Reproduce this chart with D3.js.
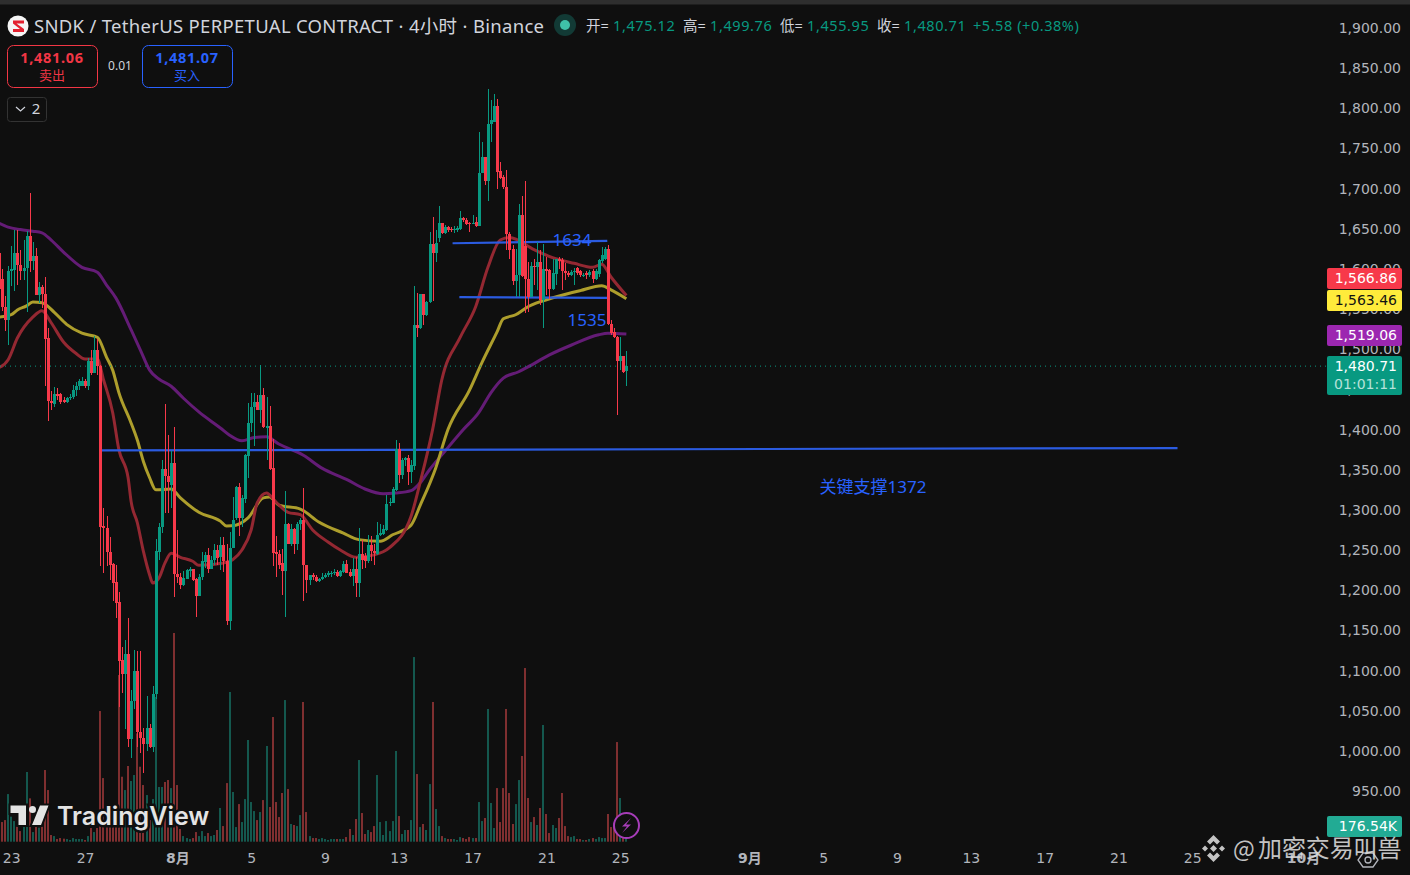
<!DOCTYPE html>
<html lang="zh">

<head>
    <meta charset="UTF-8">
    <title>SNDK 4小时</title>
    <script src="https://d3js.org/d3.v7.min.js"></script>
    <style>
        html, body {
            margin: 0;
            padding: 0;
            background-color: #0f0f0f;
            overflow: hidden;
        }

        text {
            font-family: "Noto Sans", "Noto Sans CJK SC", sans-serif;
        }
    </style>
</head>

<body>
    <div id="chart"></div>

    <script>
        // k线数据，第一根在屏幕左边缘外
        const firstBar = -1
        const opens = [1620,1588,1553,1537,1597,1599,1620,1605,1598,1601,1641,1610,1616,1567,1577,1569,1514,1436,1432,1444,
            1444,1437,1434,1439,1441,1449,1454,1454,1461,1454,1485,1471,1499,1479,1280,1278,1248,1233,1210,1185,
            1113,1096,1121,1015,1062,1099,1023,1016,1009,1028,1005,1071,1248,1279,1351,1342,1331,1358,1220,1216,
            1207,1214,1224,1226,1214,1193,1217,1235,1244,1227,1238,1250,1241,1256,1236,1162,1253,1290,1328,1290,
            1314,1367,1408,1428,1434,1424,1443,1402,1404,1352,1247,1245,1234,1224,1283,1257,1276,1258,1283,1287,
            1231,1213,1219,1216,1211,1214,1217,1219,1221,1221,1223,1218,1223,1233,1223,1218,1227,1209,1245,1242,
            1236,1256,1249,1245,1269,1270,1275,1308,1309,1325,1376,1344,1362,1364,1347,1355,1530,1526,1569,1543,
            1559,1631,1620,1638,1657,1645,1652,1650,1648,1648,1650,1663,1661,1657,1656,1658,1653,1720,1739,1710,
            1781,1783,1803,1722,1715,1702,1644,1625,1585,1592,1667,1628,1588,1565,1604,1603,1609,1561,1600,1599,
            1575,1594,1613,1611,1597,1595,1592,1596,1601,1597,1592,1595,1592,1598,1588,1594,1610,1613,1625,1531,
            1522,1515,1486,1492,1473]
        const highs = [1630,1600,1566,1604,1628,1649,1648,1624,1636,1647,1694,1633,1626,1584,1580,1590,1526,1448,1453,1452,
            1445,1440,1440,1444,1455,1459,1463,1466,1463,1489,1499,1517,1513,1481,1302,1292,1266,1234,1231,1198,
            1129,1138,1165,1076,1126,1124,1124,1028,1068,1033,1081,1264,1284,1362,1432,1393,1373,1403,1275,1221,
            1224,1227,1229,1227,1215,1220,1248,1248,1253,1243,1258,1256,1266,1266,1258,1273,1316,1330,1334,1319,
            1370,1433,1445,1445,1443,1480,1452,1441,1429,1388,1267,1250,1251,1323,1284,1283,1277,1285,1290,1327,
            1232,1219,1222,1219,1215,1222,1221,1224,1224,1227,1225,1225,1236,1238,1227,1240,1241,1277,1263,1246,
            1269,1267,1258,1285,1283,1281,1319,1315,1329,1387,1383,1364,1366,1368,1362,1579,1570,1569,1569,1560,
            1646,1665,1648,1678,1657,1655,1653,1652,1654,1654,1672,1665,1663,1658,1667,1665,1771,1758,1739,1824,
            1810,1818,1812,1733,1717,1723,1646,1630,1625,1681,1691,1709,1609,1609,1613,1634,1624,1631,1615,1600,
            1613,1613,1615,1614,1607,1597,1599,1601,1603,1599,1595,1597,1599,1600,1600,1612,1627,1627,1630,1537,
            1527,1517,1515,1492,1498]
        const lows = [1560,1548,1523,1505,1579,1572,1580,1586,1586,1547,1596,1599,1568,1557,1551,1454,1411,1425,1428,1437,
            1432,1433,1433,1437,1438,1442,1449,1454,1452,1449,1468,1471,1468,1230,1222,1230,1213,1187,1166,1055,
            1072,1027,1005,991,1052,1005,997,972,1000,1004,999,1064,1237,1271,1296,1296,1302,1191,1209,1202,
            1205,1214,1217,1212,1167,1193,1213,1228,1222,1226,1232,1231,1225,1223,1157,1150,1252,1287,1267,1279,
            1308,1340,1397,1379,1424,1408,1402,1362,1350,1230,1217,1227,1194,1167,1257,1255,1245,1250,1275,1186,
            1196,1206,1213,1210,1210,1213,1215,1216,1217,1219,1216,1217,1222,1221,1216,1205,1191,1192,1227,1228,
            1234,1236,1231,1244,1267,1269,1274,1305,1308,1323,1333,1338,1355,1331,1333,1350,1515,1525,1530,1542,
            1558,1560,1609,1634,1644,1644,1646,1646,1645,1646,1649,1658,1655,1646,1656,1652,1653,1719,1704,1685,
            1758,1783,1700,1712,1700,1624,1612,1580,1565,1565,1590,1545,1546,1565,1580,1574,1555,1527,1568,1563,
            1574,1580,1600,1574,1586,1590,1591,1580,1592,1590,1590,1588,1590,1582,1586,1590,1607,1611,1530,1518,
            1514,1418,1474,1471,1454]
        const closes = [1575,1552,1537,1598,1600,1620,1605,1598,1601,1641,1610,1616,1568,1577,1569,1513,1435,1433,1444,1442,
            1434,1434,1439,1441,1449,1454,1460,1461,1454,1485,1471,1499,1479,1279,1278,1247,1231,1209,1184,1112,
            1096,1121,1015,1062,1099,1023,1016,1009,1028,1005,1071,1249,1279,1351,1342,1335,1358,1220,1216,1207,
            1215,1225,1226,1213,1193,1217,1236,1244,1227,1238,1250,1240,1256,1236,1162,1253,1288,1328,1290,1315,
            1368,1408,1428,1434,1424,1443,1403,1404,1351,1246,1245,1232,1224,1283,1258,1276,1258,1283,1287,1231,
            1213,1219,1216,1211,1214,1217,1219,1221,1222,1223,1218,1224,1233,1222,1218,1227,1209,1245,1237,1236,
            1256,1249,1246,1269,1271,1276,1307,1310,1326,1376,1344,1362,1364,1347,1356,1530,1526,1569,1543,1559,
            1631,1620,1632,1657,1645,1652,1649,1648,1650,1651,1663,1661,1656,1656,1657,1653,1720,1739,1710,1781,
            1785,1803,1721,1713,1702,1644,1624,1585,1592,1667,1591,1588,1565,1604,1602,1609,1561,1600,1598,1575,
            1595,1613,1610,1597,1595,1592,1596,1598,1595,1592,1593,1592,1596,1588,1598,1611,1617,1625,1531,1520,
            1515,1486,1492,1472,1479]
        // 成交量(K)
        const volumes = [150,220,242,533,280,231,168,119,168,780,485,108,168,157,168,802,578,75,63,30,
            41,34,30,19,41,30,30,30,19,63,153,108,153,1462,712,168,168,168,168,1865,
            727,578,847,679,746,1212,839,634,522,242,477,1619,612,612,668,690,600,2335,634,142,
            63,41,30,41,108,63,119,63,97,63,75,131,377,175,656,1675,556,164,421,220,
            477,1138,444,343,242,332,466,1071,388,1395,444,276,545,1585,589,198,187,175,298,1563,
            332,63,41,41,30,41,30,19,30,30,30,30,30,52,142,75,254,914,321,86,
            131,108,175,746,220,75,231,119,231,1015,287,86,131,131,242,2066,757,164,198,131,
            645,1563,366,175,63,41,30,30,30,19,52,41,30,52,41,41,444,231,265,1485,
            433,153,600,220,600,1485,545,198,421,690,959,1943,489,220,276,187,377,1306,310,97,
            187,153,265,545,175,63,52,63,30,30,19,19,30,41,30,52,41,41,310,164,
            205,1115,489,320,176.54]

        // 三条均线：横坐标为k线序号
        const redLineBars = [-1,2,5,10,13,16,20,24,27,31,33,36,38,41,42,44,46,48,49,51,53,55,58,62,64,72,75,78,81,83,86,89,93,97,101,106,110,115,121,126,133,136,140,143,149,154,158,162,165,173,179,186,192,195,198,203]
        const redLineVals = [1477,1487,1514,1540,1548,1533,1509,1495,1488,1488,1462,1421,1375,1340,1310,1284,1248,1219,1209,1215,1234,1246,1241,1236,1231,1234,1238,1250,1275,1309,1321,1310,1297,1294,1275,1260,1250,1241,1244,1253,1292,1335,1400,1462,1515,1553,1602,1636,1639,1624,1614,1607,1602,1606,1590,1567]
        const yellowLineBars = [-1,3,5,8,10,13,17,21,26,31,34,36,38,42,44,46,48,50,55,58,64,71,73,76,80,85,87,90,97,103,111,116,123,127,133,136,141,145,152,156,161,163,167,171,180,188,195,198,203]
        const yellowLineVals = [1540,1543,1549,1554,1559,1558,1546,1531,1520,1515,1490,1474,1446,1408,1387,1360,1340,1325,1326,1315,1297,1286,1280,1281,1290,1315,1316,1306,1301,1285,1271,1263,1261,1269,1281,1306,1352,1400,1449,1483,1522,1538,1543,1553,1565,1573,1579,1574,1563]
        const purpleLineBars = [-1,2,6,10,13,16,20,26,31,34,37,42,45,48,51,55,59,64,71,74,78,82,86,90,98,104,112,118,124,128,133,136,139,144,150,155,159,163,168,171,178,185,194,197,203]
        const purpleLineVals = [1657,1652,1649,1647,1645,1636,1621,1602,1596,1580,1564,1524,1499,1474,1463,1454,1439,1422,1402,1393,1386,1390,1391,1382,1368,1352,1338,1326,1320,1321,1324,1334,1350,1373,1400,1421,1446,1464,1472,1478,1493,1505,1518,1520,1519]

        // 手绘的水平线 [起始序号, 起始价, 结束序号, 结束价]
        const drawnLines = [[32.5,1374,382.2,1377],[146.5,1632,196.8,1635],[148.7,1565,196.8,1564]]
        const drawnLabels = ["1634","1535","关键支撑1372"]

        const priceTicks = d3.range(950,1901,50)
        const timeBars = [3,27,57,81,105,129,153,177,201,243,267,291,315,339,363,387,423]
        const timeLabels = ["23","27","8月","5","9","13","17","21","25","9月","5","9","13","17","21","25","10月"]

        const ohlcNames = ["开=","高=","低=","收="]
        const ohlcVals = ["1,475.12","1,499.76","1,455.95","1,480.71"]

        const upColor = "#089981", downColor = "#f7394a"
        const axisFont = "'DejaVu Sans','Noto Sans CJK SC'"

        let svg = d3.select("#chart").append("svg")
            .attr("width", 1410).attr("height", 875).style("display", "block")

        let xx = d3.scaleLinear().domain([0, 423]).range([2, 1303])
        let yy = d3.scaleLinear().domain([950, 1900]).range([791, 28])
        let vv = d3.scaleLinear().domain([0, 2335]).range([841.7, 633])

        svg.append("rect").attr("width", 1410).attr("height", 875).attr("fill", "#0f0f0f")
        svg.append("rect").attr("width", 1410).attr("height", 4.5).attr("fill", "#2e2e2e")

        let bars = closes.map((c, i) => ({ bar: i + firstBar, o: opens[i], h: highs[i], l: lows[i], c: c, v: volumes[i] }))
        let isUp = d => d.c >= d.o

        // 成交量
        svg.append("g").selectAll("rect").data(bars).enter().append("rect")
            .attr("x", d => Math.round(xx(d.bar)) - 1)
            .attr("width", 2)
            .attr("y", d => vv(d.v))
            .attr("height", d => 841.7 - vv(d.v))
            .attr("fill", d => isUp(d) ? "#14584e" : "#7f2f30")

        // 均线
        function drawMa(barsArr, vals, color) {
            let line = d3.line().x((d, i) => xx(barsArr[i])).y(d => yy(d)).curve(d3.curveMonotoneX)
            svg.append("path").attr("d", line(vals)).attr("fill", "none")
                .attr("stroke", color).attr("stroke-width", 3).attr("stroke-linejoin", "round")
        }
        drawMa(purpleLineBars, purpleLineVals, "#641c76")
        drawMa(yellowLineBars, yellowLineVals, "#ad9e2c")
        drawMa(redLineBars, redLineVals, "#942832")

        // 手绘线
        svg.append("g").selectAll("line").data(drawnLines).enter().append("line")
            .attr("x1", d => xx(d[0])).attr("y1", d => yy(d[1]))
            .attr("x2", d => xx(d[2])).attr("y2", d => yy(d[3]))
            .attr("stroke", "#2b5be0").attr("stroke-width", 2.2)

        // 当前价虚线
        let last = bars[bars.length - 1]
        svg.append("line").attr("x1", 0).attr("x2", 1327)
            .attr("y1", yy(last.c)).attr("y2", yy(last.c))
            .attr("stroke", upColor).attr("stroke-width", 1).attr("stroke-dasharray", "1 4")

        // 蜡烛
        let candle = svg.append("g").attr("shape-rendering", "crispEdges").selectAll("g").data(bars).enter().append("g")
        candle.append("rect")
            .attr("x", d => Math.round(xx(d.bar)))
            .attr("width", 1)
            .attr("y", d => yy(d.h))
            .attr("height", d => yy(d.l) - yy(d.h))
            .attr("fill", d => isUp(d) ? upColor : downColor)
        candle.append("rect")
            .attr("x", d => Math.round(xx(d.bar)) - 1)
            .attr("width", 3)
            .attr("y", d => yy(Math.max(d.o, d.c)))
            .attr("height", d => Math.max(1, Math.abs(yy(d.o) - yy(d.c))))
            .attr("fill", d => isUp(d) ? upColor : downColor)

        // 绘图文字
        let labelPos = [[572, 246], [587, 326], [873, 493]]
        svg.selectAll(".drawn").data(drawnLabels).enter().append("text")
            .attr("x", (d, i) => labelPos[i][0]).attr("y", (d, i) => labelPos[i][1])
            .attr("text-anchor", "middle").attr("font-size", 17).attr("fill", "#2962ff").text(d => d)

        // 价格轴
        let priceAxis = d3.axisRight(yy).tickValues(priceTicks).tickFormat(d3.format(",.2f")).tickSize(0).tickPadding(0)
        let pg = svg.append("g").attr("transform", "translate(1401,0)").call(priceAxis)
        pg.select(".domain").remove()
        pg.selectAll("text").attr("text-anchor", "end").attr("fill", "#b2b5bc")
            .style("font-family", axisFont).style("font-size", "14px")

        // 时间轴
        let timeAxis = d3.axisBottom(xx).tickValues(timeBars).tickFormat((d, i) => timeLabels[i]).tickSize(0).tickPadding(0)
        let tg = svg.append("g").attr("transform", "translate(0,853)").call(timeAxis)
        tg.select(".domain").remove()
        tg.selectAll("text").attr("fill", "#b2b5bc")
            .style("font-family", axisFont).style("font-size", "14px")
            .style("font-weight", (d, i) => timeLabels[i].includes("月") ? 700 : 400)

        // 右侧标签
        function tag(y0, h, color, txt, txtColor) {
            svg.append("rect").attr("x", 1327).attr("y", y0).attr("width", 75).attr("height", h).attr("rx", 2).attr("fill", color)
            svg.append("text").attr("x", 1397).attr("y", y0 + 15).attr("text-anchor", "end")
                .attr("font-size", 14).attr("fill", txtColor).style("font-family", axisFont).text(txt)
        }
        tag(268, 21, "#f7394a", "1,566.86", "#fff")
        tag(290, 21, "#ffeb3b", "1,563.46", "#131313")
        tag(325, 21, "#9c27b0", "1,519.06", "#fff")
        tag(356, 39, "#089981", "1,480.71", "#fff")
        svg.append("text").attr("x", 1397).attr("y", 389).attr("text-anchor", "end")
            .attr("font-size", 14).attr("fill", "#b5e2da").style("font-family", axisFont).text("01:01:11")
        tag(816, 21, "#22ab94", "176.54K", "#fff")

        // 标题
        svg.append("circle").attr("cx", 18).attr("cy", 26).attr("r", 10.5).attr("fill", "#f5f5f5")
        svg.append("path").attr("d", "M13 20.5H24V23.5H16.5L24 29V32H13V29H20L13 23.5Z").attr("fill", "#e3202f")
        svg.append("text").attr("x", 34).attr("y", 33).attr("font-size", 18.5).attr("letter-spacing", .3).attr("fill", "#d1d4dc")
            .text("SNDK / TetherUS PERPETUAL CONTRACT · 4小时 · Binance")

        svg.append("circle").attr("cx", 565).attr("cy", 25).attr("r", 11).attr("fill", "#123a35")
        svg.append("circle").attr("cx", 565).attr("cy", 25).attr("r", 5).attr("fill", "#3fc1a9")

        let nameX = [586, 683, 780, 877], valX = [613, 710, 807, 904]
        ohlcNames.forEach((n, i) => {
            svg.append("text").attr("x", nameX[i]).attr("y", 31).attr("font-size", 14.5).attr("fill", "#d1d4dc").text(n)
            svg.append("text").attr("x", valX[i]).attr("y", 31).attr("font-size", 14.5).attr("letter-spacing", .6)
                .attr("fill", upColor).text(ohlcVals[i])
        })
        svg.append("text").attr("x", 973).attr("y", 31).attr("font-size", 14.5).attr("letter-spacing", .55)
            .attr("fill", upColor).text("+5.58 (+0.38%)")

        // 买卖按钮
        function tradeBtn(x0, color, price, name, nameColor) {
            svg.append("rect").attr("x", x0 + .5).attr("y", 45.5).attr("width", 90).attr("height", 42).attr("rx", 6)
                .attr("fill", "none").attr("stroke", color)
            svg.append("text").attr("x", x0 + 45).attr("y", 63).attr("text-anchor", "middle")
                .attr("font-size", 14.5).attr("letter-spacing", .7).attr("font-weight", 700).attr("fill", color).text(price)
            svg.append("text").attr("x", x0 + 45).attr("y", 80).attr("text-anchor", "middle")
                .attr("font-size", 13).attr("fill", nameColor).text(name)
        }
        tradeBtn(7, "#f23645", "1,481.06", "卖出", "#f23645")
        tradeBtn(142, "#2962ff", "1,481.07", "买入", "#2962ff")
        svg.append("text").attr("x", 120).attr("y", 70).attr("text-anchor", "middle")
            .attr("font-size", 12).attr("fill", "#d1d4dc").text("0.01")

        svg.append("rect").attr("x", 7.5).attr("y", 97.5).attr("width", 39).attr("height", 24).attr("rx", 3)
            .attr("fill", "none").attr("stroke", "#333")
        svg.append("path").attr("d", "M16 107L20.5 111L25 107").attr("fill", "none").attr("stroke", "#d1d4dc").attr("stroke-width", 1.2)
        svg.append("text").attr("x", 36).attr("y", 114).attr("text-anchor", "middle")
            .attr("font-size", 15).attr("fill", "#d1d4dc").text("2")

        // TradingView 水印
        let logo = svg.append("g")
        logo.append("path").attr("d", "M10.5 805.5H26V825H18.5V813H10.5Z M40 805.5H48.5L41 825H32Z")
            .attr("fill", "#e4e4e4").attr("stroke", "#0f0f0f").attr("stroke-width", 4).attr("paint-order", "stroke")
        logo.append("circle").attr("cx", 32.5).attr("cy", 809.5).attr("r", 3.5).attr("fill", "#e4e4e4")
        logo.append("text").attr("x", 57).attr("y", 825).attr("font-size", 25).attr("font-weight", 600)
            .attr("fill", "#e4e4e4").attr("stroke", "#0f0f0f").attr("stroke-width", 5).attr("paint-order", "stroke")
            .style("font-family", "Inter").text("TradingView")

        // 闪电按钮
        svg.append("circle").attr("cx", 626.5).attr("cy", 825.5).attr("r", 12.5)
            .attr("fill", "#0f0f0f").attr("stroke", "#a63db8").attr("stroke-width", 2)
        svg.append("path").attr("d", "M631 818L622 826.5H627L622 833L631 824.5H626Z").attr("fill", "#a63db8")

        // 设置图标
        svg.append("path").attr("d", "M1363 853H1373L1378 860L1373 867H1363L1358 860Z").attr("fill", "none").attr("stroke", "#b2b5bc").attr("stroke-width", 1.3)
        svg.append("circle").attr("cx", 1368).attr("cy", 860).attr("r", 3).attr("fill", "none").attr("stroke", "#b2b5bc").attr("stroke-width", 1.3)

        // 右下角水印
        let mark = svg.append("g").attr("fill", "#dcdcdc").attr("opacity", .88)
        mark.append("path").attr("d", "M1213.5 835L1220 841.5L1217 844.5L1213.5 841L1210 844.5L1207 841.5Z M1213.5 862L1207 855.5L1210 852.5L1213.5 856L1217 852.5L1220 855.5Z M1202 848.5L1205 845.5L1208 848.5L1205 851.5Z M1225 848.5L1222 851.5L1219 848.5L1222 845.5Z M1213.5 845L1217 848.5L1213.5 852L1210 848.5Z")
        mark.append("text").attr("x", 1233).attr("y", 857).attr("font-size", 23).style("font-family", "'Noto Sans CJK SC'").text("@")
        mark.append("text").attr("x", 1258).attr("y", 857).attr("font-size", 24).attr("letter-spacing", -.1)
            .style("font-family", "'Noto Sans CJK SC'").text("加密交易叫兽")
    </script>
</body>

</html>
